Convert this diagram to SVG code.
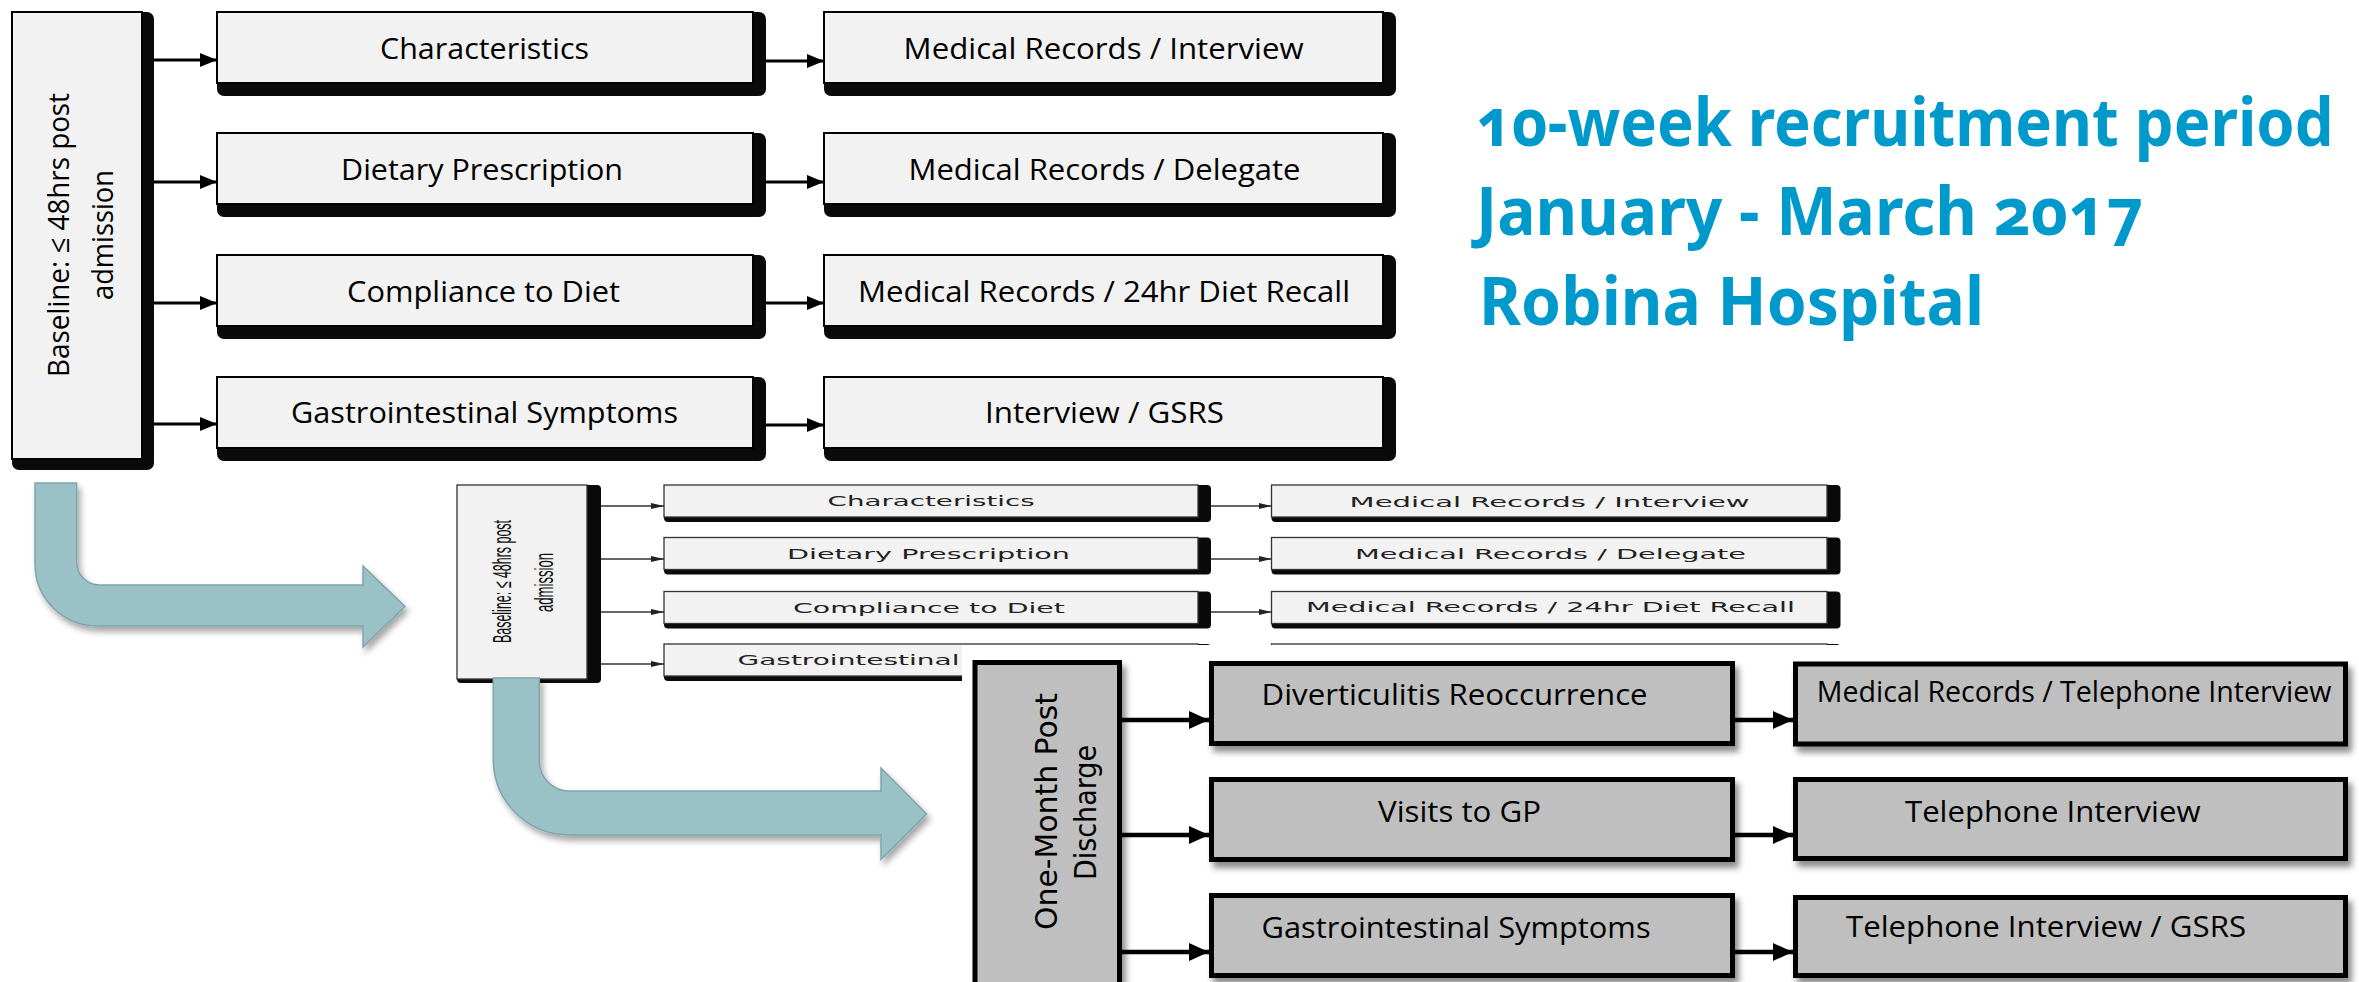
<svg xmlns="http://www.w3.org/2000/svg" width="2359" height="982" viewBox="0 0 2359 982">
<style>
.bx{fill:#f2f2f2;stroke:#000;stroke-width:2}
.sh{fill:#0a0a0a}
.sbx{fill:#f2f2f2;stroke:#333;stroke-width:1.3}
.gbx{fill:#bfbfbf;stroke:#000;stroke-width:5}
.t1{font-family:"Open Sans","Liberation Sans",sans-serif;font-size:29px;fill:#000}
.t2{font-family:"DejaVu Sans","Liberation Sans",sans-serif;font-size:13.5px;fill:#222}
.t3{font-family:"Open Sans","Liberation Sans",sans-serif;font-size:29px;fill:#000}
.title{font-family:"Noto Sans","Open Sans",sans-serif;font-weight:bold;font-size:67px;fill:#0099CC;font-variant-numeric:oldstyle-nums}
.c1{stroke:#000;stroke-width:3;fill:none}
.c2{stroke:#333;stroke-width:1.3;fill:none}
.c3{stroke:#000;stroke-width:4.5;fill:none}
.teal{fill:#9AC1C5;stroke:#7FA5AA;stroke-width:1.5}
</style>
<defs>
<marker id="m1" markerUnits="userSpaceOnUse" markerWidth="17" markerHeight="14" refX="17" refY="7" orient="auto"><path d="M0,0 L17,7 L0,14 Z" fill="#000"/></marker>
<marker id="m2" markerUnits="userSpaceOnUse" markerWidth="13" markerHeight="6" refX="13" refY="3" orient="auto"><path d="M0,0 L13,3 L0,6 Z" fill="#222"/></marker>
<marker id="m3" markerUnits="userSpaceOnUse" markerWidth="20" markerHeight="18" refX="20" refY="9" orient="auto"><path d="M0,0 L20,9 L0,18 Z" fill="#000"/></marker>
<filter id="ds" x="-10%" y="-10%" width="130%" height="140%"><feDropShadow dx="3" dy="5" stdDeviation="3" flood-color="#000" flood-opacity="0.35"/></filter>
<filter id="ds2" x="-10%" y="-10%" width="130%" height="140%"><feDropShadow dx="4" dy="6" stdDeviation="3" flood-color="#000" flood-opacity="0.45"/></filter>
</defs>
<rect width="2359" height="982" fill="#fff"/>

<!-- Section 1 -->
<g id="baseline1">
<rect class="sh" x="12" y="12" width="142" height="458" rx="7"/>
<rect class="bx" x="12" y="12" width="130" height="447"/>
<text class="t1" font-size="32" transform="translate(69,235) rotate(-90)" x="-142" y="0" textLength="284" lengthAdjust="spacingAndGlyphs">Baseline: ≤ 48hrs post</text>
<text class="t1" font-size="32" transform="translate(113,235) rotate(-90)" x="-65" y="0" textLength="130" lengthAdjust="spacingAndGlyphs">admission</text>
</g>
<g id="characteristics1"><rect class="sh" x="217" y="12" width="549" height="84" rx="7"/><rect class="bx" x="217" y="12" width="536" height="71"/><text class="t1" x="380" y="59" textLength="209" lengthAdjust="spacingAndGlyphs">Characteristics</text></g>
<g id="dietary1"><rect class="sh" x="217" y="133" width="549" height="84" rx="7"/><rect class="bx" x="217" y="133" width="536" height="71"/><text class="t1" x="341" y="180" textLength="282" lengthAdjust="spacingAndGlyphs">Dietary Prescription</text></g>
<g id="compliance1"><rect class="sh" x="217" y="255" width="549" height="84" rx="7"/><rect class="bx" x="217" y="255" width="536" height="71"/><text class="t1" x="347" y="302" textLength="273" lengthAdjust="spacingAndGlyphs">Compliance to Diet</text></g>
<g id="gastro1"><rect class="sh" x="217" y="377" width="549" height="84" rx="7"/><rect class="bx" x="217" y="377" width="536" height="71"/><text class="t1" x="291" y="423" textLength="387" lengthAdjust="spacingAndGlyphs">Gastrointestinal Symptoms</text></g>
<g id="mrinterview1"><rect class="sh" x="824" y="12" width="572" height="84" rx="7"/><rect class="bx" x="824" y="12" width="559" height="71"/><text class="t1" x="903.6" y="59" textLength="400" lengthAdjust="spacingAndGlyphs">Medical Records / Interview</text></g>
<g id="mrdelegate1"><rect class="sh" x="824" y="133" width="572" height="84" rx="7"/><rect class="bx" x="824" y="133" width="559" height="71"/><text class="t1" x="908.5" y="180" textLength="392" lengthAdjust="spacingAndGlyphs">Medical Records / Delegate</text></g>
<g id="mrrecall1"><rect class="sh" x="824" y="255" width="572" height="84" rx="7"/><rect class="bx" x="824" y="255" width="559" height="71"/><text class="t1" x="858" y="302" textLength="492" lengthAdjust="spacingAndGlyphs">Medical Records / 24hr Diet Recall</text></g>
<g id="gsrs1"><rect class="sh" x="824" y="377" width="572" height="84" rx="7"/><rect class="bx" x="824" y="377" width="559" height="71"/><text class="t1" x="985" y="423" textLength="239" lengthAdjust="spacingAndGlyphs">Interview / GSRS</text></g>

<!-- Title -->
<g id="title">
<text class="title" transform="translate(1476,146) scale(0.9,1)" x="0" y="0" textLength="953" lengthAdjust="spacingAndGlyphs">10-week recruitment period</text>
<text class="title" x="1476" y="235" textLength="667" lengthAdjust="spacingAndGlyphs">January - March 2017</text>
<text class="title" x="1479" y="325" textLength="505" lengthAdjust="spacingAndGlyphs">Robina Hospital</text>
</g>

<!-- Section 2 -->
<g id="baseline2">
<rect class="sh" x="457" y="485" width="144" height="198" rx="4"/>
<rect class="sbx" x="457" y="485" width="130" height="194"/>
<text font-family="Liberation Sans, sans-serif" font-size="25" fill="#111" transform="translate(511,581.5) rotate(-90)" x="-61.5" y="0" textLength="123" lengthAdjust="spacingAndGlyphs">Baseline: ≤ 48hrs post</text>
<text font-family="Liberation Sans, sans-serif" font-size="25" fill="#111" transform="translate(553,582.5) rotate(-90)" x="-29.5" y="0" textLength="59" lengthAdjust="spacingAndGlyphs">admission</text>
</g>
<g id="characteristics2"><rect class="sh" x="664" y="485" width="547" height="37" rx="4"/><rect class="sbx" x="664" y="485" width="534" height="32"/><text class="t2" x="827.6" y="506" textLength="207" lengthAdjust="spacingAndGlyphs">Characteristics</text></g>
<g id="dietary2"><rect class="sh" x="664" y="537.5" width="547" height="37" rx="4"/><rect class="sbx" x="664" y="537.5" width="534" height="32"/><text class="t2" x="787" y="559" textLength="283" lengthAdjust="spacingAndGlyphs">Dietary Prescription</text></g>
<g id="compliance2"><rect class="sh" x="664" y="591.5" width="547" height="37" rx="4"/><rect class="sbx" x="664" y="591.5" width="534" height="32"/><text class="t2" x="793" y="613" textLength="272" lengthAdjust="spacingAndGlyphs">Compliance to Diet</text></g>
<g id="gastro2"><rect class="sh" x="664" y="644" width="547" height="37" rx="4"/><rect class="sbx" x="664" y="644" width="534" height="32"/><text class="t2" x="737.5" y="665" textLength="222" lengthAdjust="spacingAndGlyphs">Gastrointestinal</text></g>
<g id="mrinterview2"><rect class="sh" x="1271.5" y="485" width="569" height="37" rx="4"/><rect class="sbx" x="1271.5" y="485" width="555.5" height="32"/><text class="t2" x="1349.6" y="507" textLength="400" lengthAdjust="spacingAndGlyphs">Medical Records / Interview</text></g>
<g id="mrdelegate2"><rect class="sh" x="1271.5" y="537.5" width="569" height="37" rx="4"/><rect class="sbx" x="1271.5" y="537.5" width="555.5" height="32"/><text class="t2" x="1355" y="559" textLength="391" lengthAdjust="spacingAndGlyphs">Medical Records / Delegate</text></g>
<g id="mrrecall2"><rect class="sh" x="1271.5" y="591.5" width="569" height="37" rx="4"/><rect class="sbx" x="1271.5" y="591.5" width="555.5" height="32"/><text class="t2" x="1306" y="612" textLength="489" lengthAdjust="spacingAndGlyphs">Medical Records / 24hr Diet Recall</text></g>
<g id="gsrs2"><rect class="sh" x="1271.5" y="644" width="569" height="37" rx="4"/><rect class="sbx" x="1271.5" y="644" width="555.5" height="32"/></g>

<!-- Teal bent arrows -->
<g id="bent-arrow-1"><path class="teal" filter="url(#ds)" d="M35,483 L76.7,483 L76.7,562 A23,23 0 0 0 99.7,585 L363,585 L363,566 L405,606.5 L363,647 L363,626 L97,626 A62,62 0 0 1 35,564 Z"/></g>
<g id="bent-arrow-2"><path class="teal" filter="url(#ds)" d="M493.3,678 L539.3,678 L539.3,761 A30,30 0 0 0 569.3,791 L881,791 L881,768 L926.7,814 L881,859.5 L881,835 L569,835 A75.7,75.7 0 0 1 493.3,759.3 Z"/></g>

<!-- connectors sections 1 and 2 -->
<g id="connectors-top">
<line class="c1" x1="154" y1="60" x2="217" y2="60" marker-end="url(#m1)"/>
<line class="c1" x1="154" y1="182" x2="217" y2="182" marker-end="url(#m1)"/>
<line class="c1" x1="154" y1="303" x2="217" y2="303" marker-end="url(#m1)"/>
<line class="c1" x1="154" y1="424" x2="217" y2="424" marker-end="url(#m1)"/>
<line class="c1" x1="766" y1="61" x2="824" y2="61" marker-end="url(#m1)"/>
<line class="c1" x1="766" y1="182" x2="824" y2="182" marker-end="url(#m1)"/>
<line class="c1" x1="766" y1="303" x2="824" y2="303" marker-end="url(#m1)"/>
<line class="c1" x1="766" y1="425" x2="824" y2="425" marker-end="url(#m1)"/>
<line class="c2" x1="601" y1="506" x2="664" y2="506" marker-end="url(#m2)"/>
<line class="c2" x1="601" y1="559" x2="664" y2="559" marker-end="url(#m2)"/>
<line class="c2" x1="601" y1="612" x2="664" y2="612" marker-end="url(#m2)"/>
<line class="c2" x1="601" y1="664" x2="664" y2="664" marker-end="url(#m2)"/>
<line class="c2" x1="1211" y1="506" x2="1271.5" y2="506" marker-end="url(#m2)"/>
<line class="c2" x1="1211" y1="559" x2="1271.5" y2="559" marker-end="url(#m2)"/>
<line class="c2" x1="1211" y1="612" x2="1271.5" y2="612" marker-end="url(#m2)"/>
</g>

<!-- Section 3 overlay -->
<rect x="962" y="645" width="1397" height="337" fill="#fff"/>
<g id="onemonth"><rect class="gbx" filter="url(#ds2)" x="975" y="662.5" width="144.5" height="330"/>
<text font-family="DejaVu Sans, sans-serif" font-size="30" fill="#000" transform="translate(1057,811.5) rotate(-90)" x="-118.5" y="0" textLength="237" lengthAdjust="spacingAndGlyphs">One-Month Post</text>
<text font-family="DejaVu Sans, sans-serif" font-size="30" fill="#000" transform="translate(1096,812.5) rotate(-90)" x="-67.5" y="0" textLength="135" lengthAdjust="spacingAndGlyphs">Discharge</text>
</g>
<g id="diverticulitis"><rect class="gbx" filter="url(#ds2)" x="1211.5" y="663.5" width="521" height="80"/><text class="t3" x="1261.6" y="705" textLength="386" lengthAdjust="spacingAndGlyphs">Diverticulitis Reoccurrence</text></g>
<g id="visitsgp"><rect class="gbx" filter="url(#ds2)" x="1211.5" y="779.5" width="521" height="80"/><text class="t3" x="1378" y="822" textLength="163" lengthAdjust="spacingAndGlyphs">Visits to GP</text></g>
<g id="gastro3"><rect class="gbx" filter="url(#ds2)" x="1211.5" y="895.5" width="521" height="80"/><text class="t3" x="1261.6" y="938" textLength="389" lengthAdjust="spacingAndGlyphs">Gastrointestinal Symptoms</text></g>
<g id="mrtelephone"><rect class="gbx" filter="url(#ds2)" x="1795.5" y="664" width="550" height="80"/><text class="t3" x="1816.8" y="702" textLength="514.6" lengthAdjust="spacingAndGlyphs">Medical Records / Telephone Interview</text></g>
<g id="telephone"><rect class="gbx" filter="url(#ds2)" x="1795.5" y="779.5" width="550" height="79"/><text class="t3" x="1905" y="822" textLength="295.5" lengthAdjust="spacingAndGlyphs">Telephone Interview</text></g>
<g id="telephonegsrs"><rect class="gbx" filter="url(#ds2)" x="1795.5" y="897.5" width="550" height="78"/><text class="t3" x="1846" y="937" textLength="400" lengthAdjust="spacingAndGlyphs">Telephone Interview / GSRS</text></g>

<g id="connectors-bottom">
<line class="c3" x1="1122" y1="720" x2="1209" y2="720" marker-end="url(#m3)"/>
<line class="c3" x1="1122" y1="835" x2="1209" y2="835" marker-end="url(#m3)"/>
<line class="c3" x1="1122" y1="952" x2="1209" y2="952" marker-end="url(#m3)"/>
<line class="c3" x1="1735" y1="720" x2="1793" y2="720" marker-end="url(#m3)"/>
<line class="c3" x1="1735" y1="835" x2="1793" y2="835" marker-end="url(#m3)"/>
<line class="c3" x1="1735" y1="952" x2="1793" y2="952" marker-end="url(#m3)"/>
</g>
</svg>
